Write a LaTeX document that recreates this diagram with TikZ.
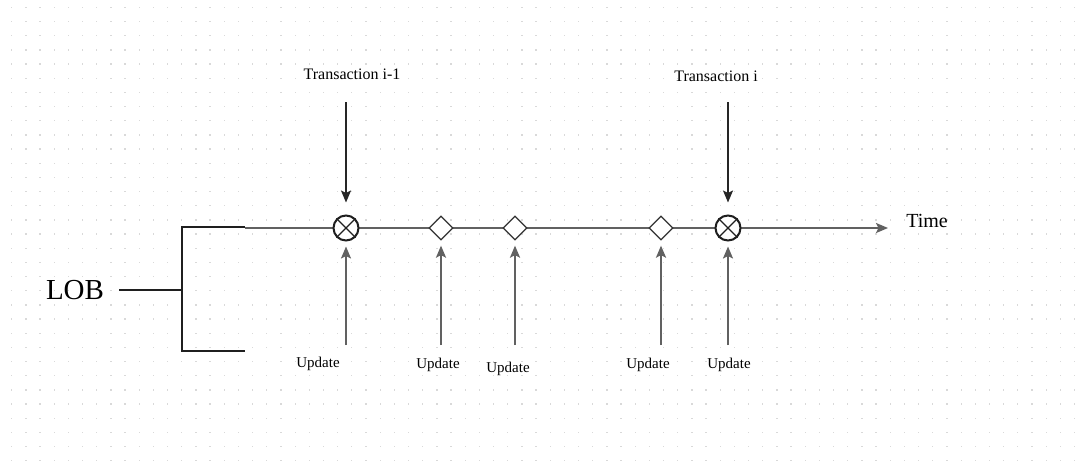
\documentclass[tikz,border=0pt]{standalone}
\usepackage{fontspec}
\setmainfont{Liberation Serif}
\usetikzlibrary{arrows.meta,shapes.geometric}
\begin{document}
\begin{tikzpicture}[x=1pt,y=-1pt,
  tip/.style={-{Stealth[length=12pt,width=10pt,inset=2.5pt]}},
  axisline/.style={draw=black!62, line width=2pt},
  feed/.style={axisline, tip, shorten >=5pt},
  trade/.style={draw=black!85, line width=1.6pt, tip, shorten >=12pt},
  bracket/.style={draw=black!88, line width=2.4pt},
  xmark/.style={circle, draw=black!88, line width=2pt, fill=white,
    minimum size=25pt, inner sep=0pt},
  quote/.style={diamond, draw=black!80, line width=1.3pt, fill=white,
    minimum width=24pt, minimum height=24pt, inner sep=0pt},
  small/.style={font=\fontsize{15}{17}\selectfont, anchor=base},
  title/.style={font=\fontsize{16}{18}\selectfont, anchor=base},
]
% canvas and dotted grid
\useasboundingbox (0,0) rectangle (1075,471);
\fill[white] (0,0) rectangle (1075,471);
\foreach \i in {0,...,75}{
  \foreach \j in {0,...,32}{
    \fill[black!15] ({11.1+14.17*\i},{6.7+14.17*\j}) rectangle ++(1.3,1.3);
  }
}

% order book bracket
\node[font=\fontsize{29}{32}\selectfont, anchor=base] (lob) at (75,299) {LOB};
\coordinate (lobend) at (119,290);
\coordinate (bmid) at (182,290);
\coordinate (btop) at (182,227);
\coordinate (bbot) at (182,351);
\coordinate (btopend) at (245,227);
\coordinate (bbotend) at (245,351);
\draw[bracket] (lobend) -- (bmid);
\draw[bracket] (btopend) -- (btop) -- (bbot) -- (bbotend);

% time axis
\coordinate (tlstart) at (245,228);
\coordinate (tlend) at (888,228);
\draw[axisline, tip] (tlstart) -- (tlend);
\node[font=\fontsize{20}{22}\selectfont, anchor=base] (time) at (927,227) {Time};

% events on the axis
\node[xmark] (xa) at (346,228) {};
\node[quote] (da) at (441,228) {};
\node[quote] (db) at (515,228) {};
\node[quote] (dc) at (661,228) {};
\node[xmark] (xb) at (728,228) {};
\foreach \n in {xa,xb}{
  \draw[black!88, line width=1.2pt] (\n.45) -- (\n.225);
  \draw[black!88, line width=1.2pt] (\n.135) -- (\n.315);
}

% transactions
\node[title] (ta) at (352,79) {Transaction i-1};
\node[title] (tb) at (716,81) {Transaction i};
\coordinate (tas) at (346,102);
\coordinate (tbs) at (728,102);
\draw[trade] (tas) -- (xa.north);
\draw[trade] (tbs) -- (xb.north);

% book updates
\foreach \n/\c in {xa/ua, da/ub, db/uc, dc/ud, xb/ue}{
  \coordinate (\c) at (\n.center |- 0,345);
  \draw[feed] (\c) -- (\n.south);
}
\node[small] (la) at (318,367) {Update};
\node[small] (lb) at (438,368) {Update};
\node[small] (lc) at (508,372) {Update};
\node[small] (ld) at (648,368) {Update};
\node[small] (le) at (729,368) {Update};
\end{tikzpicture}
\end{document}
